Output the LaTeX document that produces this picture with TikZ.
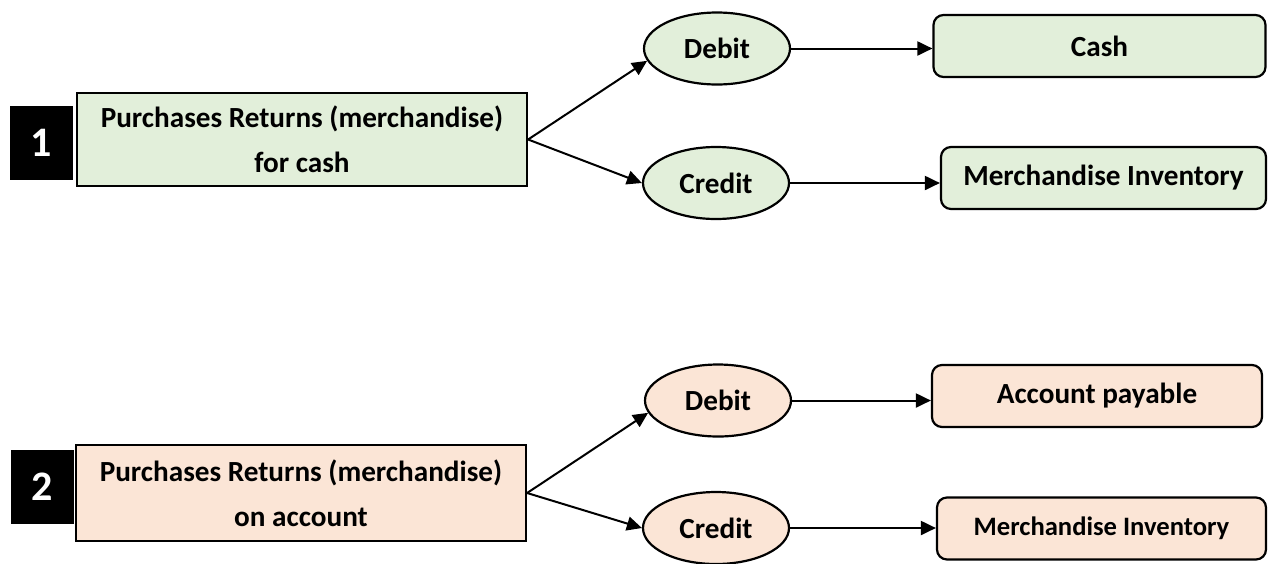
\documentclass[tikz,border=0pt]{standalone}
\usepackage{fontspec}
\setmainfont{Carlito}
\usetikzlibrary{shapes.geometric,arrows.meta}
\definecolor{gfill}{HTML}{E2EFDA}
\definecolor{pfill}{HTML}{FBE5D6}
\tikzset{
  every node/.style={font=\bfseries\fontsize{14.6}{22.5}\selectfont, text=black},
  numbox/.style={fill=black, text=white, minimum width=31.5pt, minimum height=37pt, inner sep=0pt, font=\bfseries\fontsize{21}{24}\selectfont},
  mainbox/.style={draw=black, line width=1.1pt, minimum width=225pt, minimum height=46.5pt, inner sep=0pt, align=center},
  oval/.style={draw=black, line width=1.1pt, ellipse, minimum width=73pt, minimum height=36pt, inner sep=0pt},
  acct/.style={draw=black, line width=1.1pt, rounded corners=5pt, minimum width=166pt, minimum height=31pt, inner sep=0pt},
  conn/.style={line width=1pt, -{Triangle[length=7.5pt,width=7pt]}},
}
\begin{document}
\begin{tikzpicture}[x=0.5pt,y=-0.5pt]
\useasboundingbox (0,0) rectangle (1273,563);
% section 1
\node[numbox] (n1) at (41.5,142.5) {1};
\node[mainbox, fill=gfill] (b1) at (302,139.5) {Purchases Returns (merchandise)\\for cash};
\node[oval, fill=gfill] (d1) at (717,48.5) {Debit};
\node[oval, fill=gfill] (c1) at (716,183) {Credit};
\node[acct, fill=gfill] (a1) at (1099.5,46) {Cash};
\node[acct, fill=gfill, minimum width=162.5pt] (m1) at (1103.5,178) {Merchandise Inventory};
\draw[conn] (b1.east) -- (d1.190);
\draw[conn] (b1.east) -- (c1.west);
\draw[conn] (d1.east) -- (d1.east -| a1.west);
\draw[conn] (c1.east) -- (c1.east -| m1.west);
% section 2
\node[numbox] (n2) at (42,486.5) {2};
\node[mainbox, fill=pfill, minimum height=48pt] (b2) at (301,493) {Purchases Returns (merchandise)\\on account};
\node[oval, fill=pfill] (d2) at (718,400.5) {Debit};
\node[oval, fill=pfill] (c2) at (716,528) {Credit};
\node[acct, fill=pfill, minimum width=165pt] (a2) at (1097,396) {Account payable};
\node[acct, fill=pfill, minimum width=164.5pt, font=\bfseries\fontsize{13.3}{16}\selectfont] (m2) at (1101.5,528.5) {Merchandise Inventory};
\draw[conn] (b2.east) -- (d2.190);
\draw[conn] (b2.east) -- (c2.west);
\draw[conn] (d2.east) -- (d2.east -| a2.west);
\draw[conn] (c2.east) -- (c2.east -| m2.west);
\end{tikzpicture}
\end{document}
